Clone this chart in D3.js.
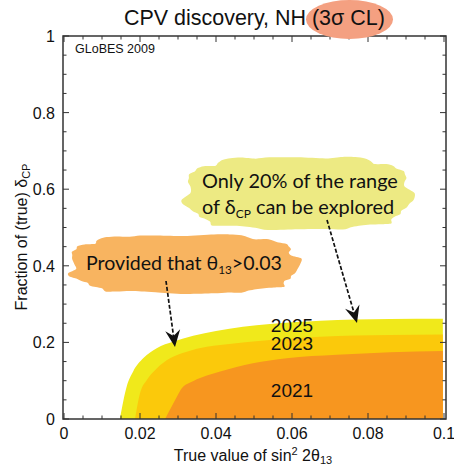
<!DOCTYPE html>
<html><head><meta charset="utf-8">
<script src="https://cdn.jsdelivr.net/npm/d3@7"></script>
<style>
html,body{margin:0;padding:0;background:#fff;}
svg{display:block;}
</style></head>
<body>
<svg id="c" width="454" height="466"></svg>
<script>
// ---- data ----
const xTicks = [0, 0.02, 0.04, 0.06, 0.08, 0.1];
const xTickLabels = ["0", "0.02", "0.04", "0.06", "0.08", "0.1"];
const yTicks = [0, 0.2, 0.4, 0.6, 0.8, 1];
const yTickLabels = ["0", "0.2", "0.4", "0.6", "0.8", "1"];
const years = ["2025", "2023", "2021"];

const x2025 = [0.0147, 0.0165, 0.0182, 0.0209, 0.0244, 0.0288, 0.0340, 0.0400, 0.0542, 0.0674, 0.0858, 0.0997];
const y2025 = [0, 0.085, 0.124, 0.159, 0.185, 0.2025, 0.2175, 0.230, 0.248, 0.2567, 0.261, 0.2615];
const x2023 = [0.0187, 0.0200, 0.0218, 0.0244, 0.0279, 0.0323, 0.0376, 0.0411, 0.0542, 0.0674, 0.0858, 0.0997];
const y2023 = [0, 0.067, 0.102, 0.132, 0.1585, 0.1757, 0.1887, 0.1932, 0.2063, 0.2150, 0.2192, 0.2205];
const x2021 = [0.0266, 0.0283, 0.0297, 0.0310, 0.0332, 0.0367, 0.0411, 0.0497, 0.0586, 0.0718, 0.0858, 0.0997];
const y2021 = [0, 0.032, 0.058, 0.080, 0.095, 0.1105, 0.1240, 0.1456, 0.1587, 0.1675, 0.1745, 0.1775];

const svg = d3.select("#c");
const FONT = "'Liberation Sans', Arial, sans-serif";
const HUM = "Lato, 'Open Sans', sans-serif";

const x = d3.scaleLinear().domain([0, 0.1]).range([64, 444]);
const y = d3.scaleLinear().domain([0, 1]).range([419, 36]);
const frame = {x0: 63, x1: 446, y0: 36, y1: 419};

// ---- bands ----
const bands = [
  {xs: x2025, ys: y2025, color: "#F0E91B"},
  {xs: x2023, ys: y2023, color: "#FBC90B"},
  {xs: x2021, ys: y2021, color: "#F7961F"}
];
const area = d3.area().x(d => x(d[0])).y0(y(0)).y1(d => y(d[1])).curve(d3.curveMonotoneX);
bands.forEach(b => {
  const pts = b.xs.map((v, i) => [v, b.ys[i]]);
  svg.append("path").attr("d", area(pts)).attr("fill", b.color);
});

// ---- frame + ticks ----
const g = svg.append("g");
const tickStroke = "#333";
d3.range(0, 0.1001, 0.005).forEach(v => {
  const major = Math.abs(v / 0.02 - Math.round(v / 0.02)) < 1e-6;
  const L = major ? 6 : 3.5;
  g.append("line").attr("x1", x(v)).attr("x2", x(v)).attr("y1", frame.y1).attr("y2", frame.y1 - L).attr("stroke", tickStroke).attr("stroke-width", 1);
  g.append("line").attr("x1", x(v)).attr("x2", x(v)).attr("y1", frame.y0).attr("y2", frame.y0 + L).attr("stroke", tickStroke).attr("stroke-width", 1);
});
d3.range(0, 1.0001, 0.05).forEach(v => {
  const major = Math.abs(v / 0.2 - Math.round(v / 0.2)) < 1e-6;
  const L = major ? 6 : 3.5;
  g.append("line").attr("y1", y(v)).attr("y2", y(v)).attr("x1", frame.x0).attr("x2", frame.x0 + L).attr("stroke", tickStroke).attr("stroke-width", 1);
  g.append("line").attr("y1", y(v)).attr("y2", y(v)).attr("x1", frame.x1).attr("x2", frame.x1 - L).attr("stroke", tickStroke).attr("stroke-width", 1);
});
g.append("rect").attr("x", frame.x0).attr("y", frame.y0).attr("width", frame.x1 - frame.x0).attr("height", frame.y1 - frame.y0)
  .attr("fill", "none").attr("stroke", "#333").attr("stroke-width", 1.5);

// tick labels
xTicks.forEach((v, i) => {
  svg.append("text").attr("x", x(v)).attr("y", 439).attr("text-anchor", "middle")
    .attr("font-family", FONT).attr("font-size", 16).attr("fill", "#111").text(xTickLabels[i]);
});
yTicks.forEach((v, i) => {
  svg.append("text").attr("x", 55).attr("y", y(v) + 6).attr("text-anchor", "end")
    .attr("font-family", FONT).attr("font-size", 16).attr("fill", "#111").text(yTickLabels[i]);
});

// axis titles
const xl = svg.append("text").attr("x", 253).attr("y", 461).attr("text-anchor", "middle")
  .attr("font-family", FONT).attr("font-size", 16).attr("fill", "#111");
xl.append("tspan").text("True value of sin");
xl.append("tspan").attr("font-size", 11).attr("dy", -6).text("2");
xl.append("tspan").attr("dy", 6).text(" 2θ");
xl.append("tspan").attr("font-size", 11).attr("dy", 3).text("13");

const yl = svg.append("text").attr("transform", "translate(27,237) rotate(-90)").attr("text-anchor", "middle")
  .attr("font-family", FONT).attr("font-size", 16).attr("fill", "#111");
yl.append("tspan").text("Fraction of (true) δ");
yl.append("tspan").attr("font-size", 11).attr("dy", 3).text("CP");

// GLoBES
svg.append("text").attr("x", 75).attr("y", 53).attr("font-family", FONT).attr("font-size", 12.5).attr("fill", "#111").text("GLoBES 2009");

// title
svg.append("ellipse").attr("cx", 349.5).attr("cy", 19.5).attr("rx", 43.5).attr("ry", 19.5).attr("fill", "#F4A081");
const title = svg.append("text").attr("x", 124).attr("y", 25)
  .attr("font-family", FONT).attr("font-size", 20).attr("fill", "#111").text("CPV discovery, NH (3σ CL)");
{
  const w = title.node().getComputedTextLength();
  title.attr("font-size", 20 * 261 / w);
}

// year labels
const yearPos = [[0.06, 0.228], [0.06, 0.179], [0.06, 0.0574]];
years.forEach((t, i) => {
  svg.append("text").attr("x", x(yearPos[i][0])).attr("y", y(yearPos[i][1])).attr("text-anchor", "middle")
    .attr("font-family", FONT).attr("font-size", 19).attr("fill", "#111").text(t);
});

// ---- blobs ----
function blob(cx, cy, a, b, seed) {
  const pts = [];
  const N = 60;
  for (let k = 0; k < N; k++) {
    const t = 2 * Math.PI * k / N;
    const c = Math.cos(t), s = Math.sin(t);
    const r = 1 + 0.03 * Math.sin(9 * t + seed) + 0.02 * Math.sin(15 * t + 2 * seed) + 0.015 * Math.sin(23 * t + seed * 3);
    const px = cx + a * Math.sign(c) * Math.pow(Math.abs(c), 0.6) * r;
    const py = cy + b * Math.sign(s) * Math.pow(Math.abs(s), 0.75) * r;
    pts.push([px, py]);
  }
  return d3.line().curve(d3.curveCardinalClosed.tension(0.2))(pts);
}
svg.append("path").attr("d", blob(184, 264, 113, 29, 1.3)).attr("fill", "#F8B460");
svg.append("path").attr("d", blob(298, 193, 112, 36, 0.4)).attr("fill", "#EDEA83");

function fitText(sel, target) {
  const w = sel.node().getComputedTextLength();
  const fs = +sel.attr("font-size");
  sel.attr("font-size", fs * target / w);
}
// orange callout text
const t1 = svg.append("text").attr("x", 86).attr("y", 270).attr("font-family", HUM).attr("font-size", 19).attr("fill", "#111");
t1.append("tspan").text("Provided that θ");
t1.append("tspan").attr("font-size", "0.6em").attr("dy", 4).text("13");
t1.append("tspan").attr("dy", -4).text(">0.03");
fitText(t1, 196);

const t2 = svg.append("text").attr("x", 202).attr("y", 188).attr("font-family", HUM).attr("font-size", 19).attr("fill", "#111").text("Only 20% of the range");
fitText(t2, 196);
const t3 = svg.append("text").attr("x", 202).attr("y", 214).attr("font-family", HUM).attr("font-size", t2.attr("font-size")).attr("fill", "#111");
t3.append("tspan").text("of δ");
t3.append("tspan").attr("font-size", "0.6em").attr("dy", 4).text("CP");
t3.append("tspan").attr("dy", -4).text(" can be explored");

// ---- arrows ----
function arrow(x1, y1, x2, y2) {
  const ang = Math.atan2(y2 - y1, x2 - x1);
  const L = 17, W = 7.5, notch = 11;
  const ux = Math.cos(ang), uy = Math.sin(ang);
  const px = -uy, py = ux;
  const bx = x2 - ux * notch, by = y2 - uy * notch;
  svg.append("line").attr("x1", x1).attr("y1", y1).attr("x2", bx).attr("y2", by)
    .attr("stroke", "#111").attr("stroke-width", 1.7).attr("stroke-dasharray", "4,2");
  const p = [
    [x2, y2],
    [x2 - ux * L + px * W, y2 - uy * L + py * W],
    [bx, by],
    [x2 - ux * L - px * W, y2 - uy * L - py * W]
  ];
  svg.append("path").attr("d", "M" + p.map(q => q.join(",")).join("L") + "Z").attr("fill", "#111");
}
arrow(166, 281, 175, 347);
arrow(327, 220, 357, 323);
</script>
</body></html>
